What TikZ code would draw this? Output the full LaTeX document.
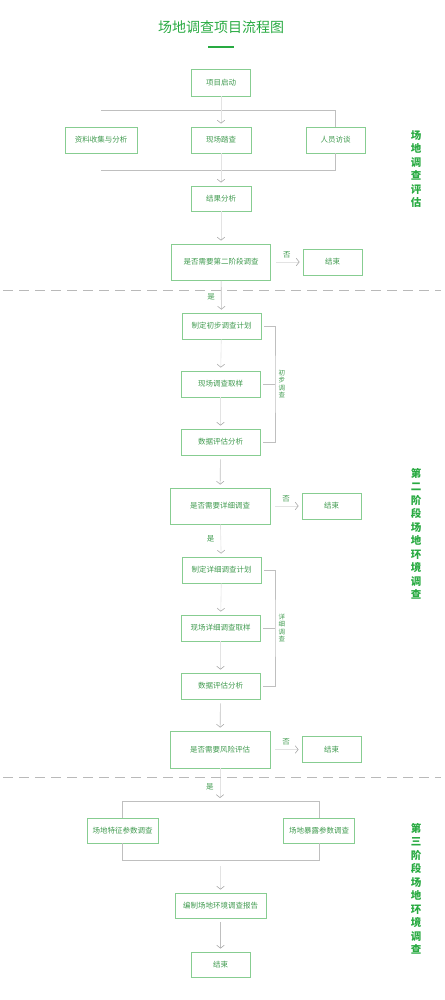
\documentclass[tikz,border=0pt]{standalone}
\usepackage{fontspec}
\setmainfont{Noto Sans CJK SC}
\usetikzlibrary{arrows.meta}
\definecolor{vertbord}{RGB}{135,205,145}
\definecolor{verttexte}{RGB}{65,155,80}
\definecolor{verttitre}{RGB}{40,170,65}

\begin{document}
\begin{tikzpicture}[
  x=1pt,y=-1pt,
  >={Straight Barb[length=3pt,width=7.5pt,color=gray!65]},
  boite/.style={draw=vertbord,fill=white,line width=0.8pt,text=verttexte,
    font=\fontsize{7.5}{9}\selectfont,minimum width=60pt,minimum height=26pt,inner sep=0pt},
  large/.style={boite,minimum width=79pt},
  choix/.style={boite,minimum width=100pt,minimum height=36pt},
  lien/.style={draw=gray!50,line width=0.6pt},
  pale/.style={draw=gray!22,line width=0.6pt},
  fleche/.style={->,shorten >=3pt},
  etiq/.style={text=verttexte,font=\fontsize{7.5}{8}\selectfont,inner sep=0pt},
  petit/.style={text=verttexte,font=\fontsize{6.5}{7.2}\selectfont,align=center,inner sep=0pt},
  etape/.style={text=verttitre,font=\fontsize{10.5}{13.5}\selectfont\bfseries,align=center,inner sep=0pt},
  tirets/.style={draw=gray!55,line width=0.7pt,dash pattern=on 10pt off 6pt},
]
  \useasboundingbox (0,0) rectangle (444,1000);

  % Titre
  \node[text=verttitre,font=\fontsize{14}{16}\selectfont] (titre) at (221,27) {场地调查项目流程图};
  \draw[verttitre,line width=2pt] (208,47) -- (234,47);

  % Premiere phase
  \node[boite,minimum width=59pt,minimum height=27pt] (qidong) at (221,82.5) {项目启动};
  \node[boite,minimum width=72pt] (ziliao) at (101,140) {资料收集与分析};
  \node[boite] (tacha) at (221,140) {现场踏查};
  \node[boite,minimum width=59pt] (fangtan) at (335.5,140) {人员访谈};
  \node[boite,minimum height=25pt] (jieguo) at (221,198.5) {结果分析};
  \node[choix,minimum width=99pt] (pan1) at (221,262) {是否需要第二阶段调查};
  \node[boite,minimum width=59pt] (fin1) at (332.5,262) {结束};

  \coordinate (g1) at (101,110);
  \coordinate (m1) at (221,110);
  \coordinate (d1) at (335.5,110);
  \coordinate (g2) at (101,170);
  \coordinate (m2) at (221,170);
  \coordinate (d2) at (335.5,170);

  \draw[pale] (qidong) -- (m1);
  \draw[lien] (g1) -- (d1) -- (fangtan);
  \draw[lien] (fangtan) -- (d2) -- (g2);
  \draw[pale,fleche] (m1) -- (tacha);
  \draw[pale] (tacha) -- (m2);
  \draw[pale,fleche] (m2) -- (jieguo);
  \draw[pale,fleche] (jieguo) -- (pan1);
  \draw[pale,fleche,shorten <=5pt] (pan1) -- (fin1) node[etiq,midway,above=4pt] {否};

  % Deuxieme phase
  \node[large] (jihua1) at (221.5,326) {制定初步调查计划};
  \node[large] (quyang1) at (220.5,384) {现场调查取样};
  \node[large] (pinggu1) at (220.5,442) {数据评估分析};
  \node[choix] (pan2) at (220,506) {是否需要详细调查};
  \node[boite,minimum width=59pt] (fin2) at (331.5,506) {结束};
  \node[large] (jihua2) at (221.5,570) {制定详细调查计划};
  \node[large] (quyang2) at (220.5,628) {现场详细调查取样};
  \node[large] (pinggu2) at (220.5,686) {数据评估分析};
  \node[choix,minimum height=37pt] (pan3) at (220,749.5) {是否需要风险评估};
  \node[boite,minimum width=59pt] (fin3) at (331.5,749.5) {结束};

  \draw[lien,fleche] (pan1) -- (jihua1) node[etiq,midway,left=6pt] {是};
  \draw[pale,fleche] (jihua1) -- (quyang1);
  \draw[pale,fleche] (quyang1) -- (pinggu1);
  \draw[lien,fleche,shorten <=4pt] (pinggu1) -- (pan2);
  \draw[pale,fleche,shorten <=5pt] (pan2) -- (fin2) node[etiq,midway,above=4pt] {否};
  \draw[pale,fleche] (pan2) -- (jihua2) node[etiq,pos=0.45,left=6pt] {是};
  \draw[pale,fleche] (jihua2) -- (quyang2);
  \draw[pale,fleche] (quyang2) -- (pinggu2);
  \draw[lien,fleche,shorten <=4pt] (pinggu2) -- (pan3);
  \draw[pale,fleche,shorten <=5pt] (pan3) -- (fin3) node[etiq,midway,above=4pt] {否};

  % Accolades
  \coordinate (cr1) at (275,384);
  \coordinate (cr2) at (275,628);
  \draw[lien] ([xshift=3pt]jihua1.east) -| (cr1) |- ([xshift=3pt]pinggu1.east);
  \draw[lien] ([xshift=3pt]quyang1.east) -- (cr1);
  \node[petit,right=3.5pt] (lab1) at (cr1) {初\\步\\调\\查};
  \draw[lien] ([xshift=3pt]jihua2.east) -| (cr2) |- ([xshift=3pt]pinggu2.east);
  \draw[lien] ([xshift=3pt]quyang2.east) -- (cr2);
  \node[petit,right=3.5pt] (lab2) at (cr2) {详\\细\\调\\查};

  % Troisieme phase
  \node[boite,minimum width=71pt,minimum height=25pt] (tezheng) at (122.5,830.5) {场地特征参数调查};
  \node[boite,minimum width=71pt,minimum height=25pt] (baolu) at (319,830.5) {场地暴露参数调查};
  \node[boite,minimum width=91pt,minimum height=25pt] (baogao) at (220.5,905.5) {编制场地环境调查报告};
  \node[boite,minimum width=59pt,minimum height=25pt] (fin4) at (220.5,964.5) {结束};

  \coordinate (g5) at (122.5,801);
  \coordinate (m5) at (220,801);
  \coordinate (d5) at (319,801);
  \coordinate (g6) at (122.5,860);
  \coordinate (m6) at (220.5,866);
  \coordinate (d6) at (319,860);

  \draw[pale,fleche] (pan3) -- (m5) node[etiq,pos=0.55,left=6pt] {是};
  \draw[lien] (tezheng) -- (g5) -- (d5) -- (baolu);
  \draw[lien] (tezheng) -- (g6) -- (d6) -- (baolu);
  \draw[pale,fleche] (m6) -- (baogao);
  \draw[lien,fleche,shorten <=4pt] (baogao) -- (fin4);

  % Separations
  \draw[tirets] (3,290) -- (441,290);
  \draw[tirets] (3,777) -- (441,777);

  % Etapes
  \node[etape] (etape1) at (416,169) {场\\地\\调\\查\\评\\估};
  \node[etape] (etape2) at (416,534) {第\\二\\阶\\段\\场\\地\\环\\境\\调\\查};
  \node[etape] (etape3) at (416,889) {第\\三\\阶\\段\\场\\地\\环\\境\\调\\查};
\end{tikzpicture}
\end{document}
